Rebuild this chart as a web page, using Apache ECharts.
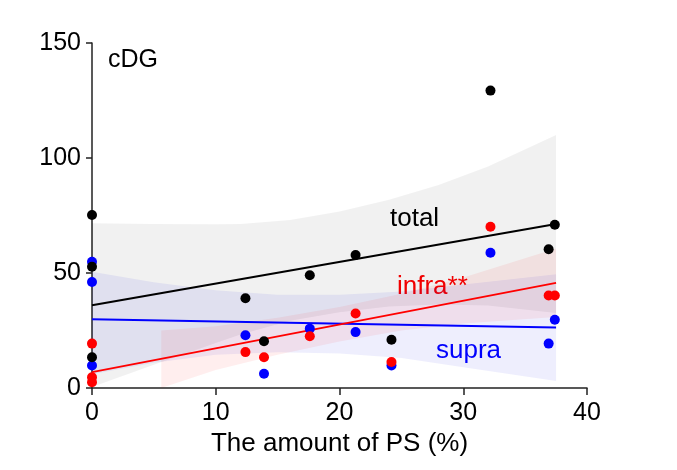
<!DOCTYPE html>
<html>
<head>
<meta charset="utf-8">
<script src="https://cdn.jsdelivr.net/npm/echarts@6/dist/echarts.min.js"></script>
<style>
html,body{margin:0;padding:0;background:#fff;}
#chart{width:677px;height:470px;}
</style>
</head>
<body>
<div id="chart"></div>
<script>
// ---- data ----
var xTicks = [0, 10, 20, 30, 40];
var yTicks = [0, 50, 100, 150];

var totalPoints = [[0,75.2],[0,52.7],[0,13.4],[12.4,39],[13.9,20.3],[17.6,49],[21.3,57.8],[24.2,21],[32.2,129.3],[36.9,60.3],[37.4,71]];
var infraPoints = [[0,19.3],[0,4.7],[0,2.5],[12.4,15.6],[13.9,13.4],[17.6,22.5],[21.3,32.4],[24.2,11.3],[32.2,70.1],[36.9,40.2],[37.4,40.2]];
var supraPoints = [[0,54.9],[0,46.1],[0,9.8],[12.4,22.9],[13.9,6.2],[17.6,25.8],[21.3,24.3],[24.2,9.8],[32.2,58.8],[36.9,19.3],[37.4,29.7]];

var totalFit = [[0,36],[37.5,71.3]];
var infraFit = [[0,6.9],[37.5,45.7]];
var supraFit = [[0,29.9],[37.5,26.3]];

var totalBandX = [0, 5, 10, 12, 16, 20, 24, 28, 32, 37.5];
var totalUpper = [71.6, 71.3, 71.2, 71.3, 73, 76.7, 81.8, 88.3, 96.3, 110];
var totalLower = [0.4, 10.1, 19.6, 23.3, 29.2, 32.9, 35.4, 36.3, 35.9, 32.6];

var supraBandX = [0, 5, 10, 15, 20, 25, 30, 37.5];
var supraUpper = [50.5, 46, 42.5, 40.5, 40.5, 42, 45, 49.5];
var supraLower = [6, 11, 14.5, 15.5, 15, 13, 9, 3];

var infraBandX = [5.6, 10, 15, 20, 25, 30, 37.5];
var infraUpper = [25, 26.8, 30.5, 35.2, 41, 48, 60.7];
var infraLower = [0, 7.8, 14.5, 20.2, 25, 28, 30.9];

var FONT = '"Liberation Sans", Arial, Helvetica, sans-serif';

function bandSeries(xs, lo, hi, color) {
  var rows = xs.map(function (x, i) { return [x, lo[i], hi[i]]; });
  return {
    type: 'custom',
    silent: true,
    z: 1,
    data: rows,
    encode: { x: 0, y: [1, 2] },
    renderItem: function (params, api) {
      if (params.dataIndex !== 0) return null;
      var pts = [];
      for (var i = 0; i < rows.length; i++) pts.push(api.coord([rows[i][0], rows[i][2]]));
      for (var j = rows.length - 1; j >= 0; j--) pts.push(api.coord([rows[j][0], rows[j][1]]));
      return { type: 'polygon', shape: { points: pts }, style: { fill: color, stroke: null } };
    }
  };
}

function fitSeries(d, color) {
  return { type: 'line', data: d, showSymbol: false, silent: true, z: 3,
           lineStyle: { color: color, width: 2 } };
}
function pointSeries(d, color, z) {
  return { type: 'scatter', data: d, symbolSize: 10, z: z, silent: true,
           itemStyle: { color: color, opacity: 1 } };
}

var axisLineStyle = { color: '#222', width: 1.5 };

var chart = echarts.init(document.getElementById('chart'), null, { renderer: 'canvas' });
chart.setOption({
  animation: false,
  backgroundColor: '#fff',
  grid: { left: 92, right: 90, top: 43, bottom: 82 },
  xAxis: {
    type: 'value', min: xTicks[0], max: xTicks[xTicks.length - 1], interval: 10,
    axisLine: { show: true, onZero: false, lineStyle: axisLineStyle },
    axisTick: { show: true, length: 7, lineStyle: axisLineStyle },
    axisLabel: { fontSize: 25, color: '#000', margin: 13, fontFamily: FONT },
    splitLine: { show: false },
    name: 'The amount of PS (%)', nameLocation: 'middle', nameGap: 40,
    nameTextStyle: { fontSize: 26, color: '#000', fontFamily: FONT }
  },
  yAxis: {
    type: 'value', min: yTicks[0], max: yTicks[yTicks.length - 1], interval: 50,
    axisLine: { show: true, onZero: false, lineStyle: axisLineStyle },
    axisTick: { show: true, length: 6, lineStyle: axisLineStyle },
    axisLabel: { fontSize: 25, color: '#000', margin: 11, fontFamily: FONT },
    splitLine: { show: false }
  },
  graphic: [
    { type: 'text', x: 108, y: 60, style: { text: 'cDG', fill: '#000', font: '25px ' + FONT, verticalAlign: 'middle' } },
    { type: 'text', x: 390, y: 219, style: { text: 'total', fill: '#000', font: '26px ' + FONT, verticalAlign: 'middle' } },
    { type: 'text', x: 397, y: 287, style: { text: 'infra**', fill: '#ff0000', font: '26px ' + FONT, verticalAlign: 'middle' } },
    { type: 'text', x: 436, y: 351, style: { text: 'supra', fill: '#0000ff', font: '26px ' + FONT, verticalAlign: 'middle' } }
  ],
  series: [
    bandSeries(totalBandX, totalLower, totalUpper, 'rgba(0,0,0,0.055)'),
    bandSeries(supraBandX, supraLower, supraUpper, 'rgba(0,0,230,0.065)'),
    bandSeries(infraBandX, infraLower, infraUpper, 'rgba(255,0,0,0.065)'),
    fitSeries(totalFit, '#000'),
    fitSeries(supraFit, '#0000ff'),
    fitSeries(infraFit, '#ff0000'),
    pointSeries(supraPoints, '#0000ff', 4),
    pointSeries(totalPoints, '#000', 5),
    pointSeries(infraPoints, '#ff0000', 6)
  ]
});
</script>
</body>
</html>
